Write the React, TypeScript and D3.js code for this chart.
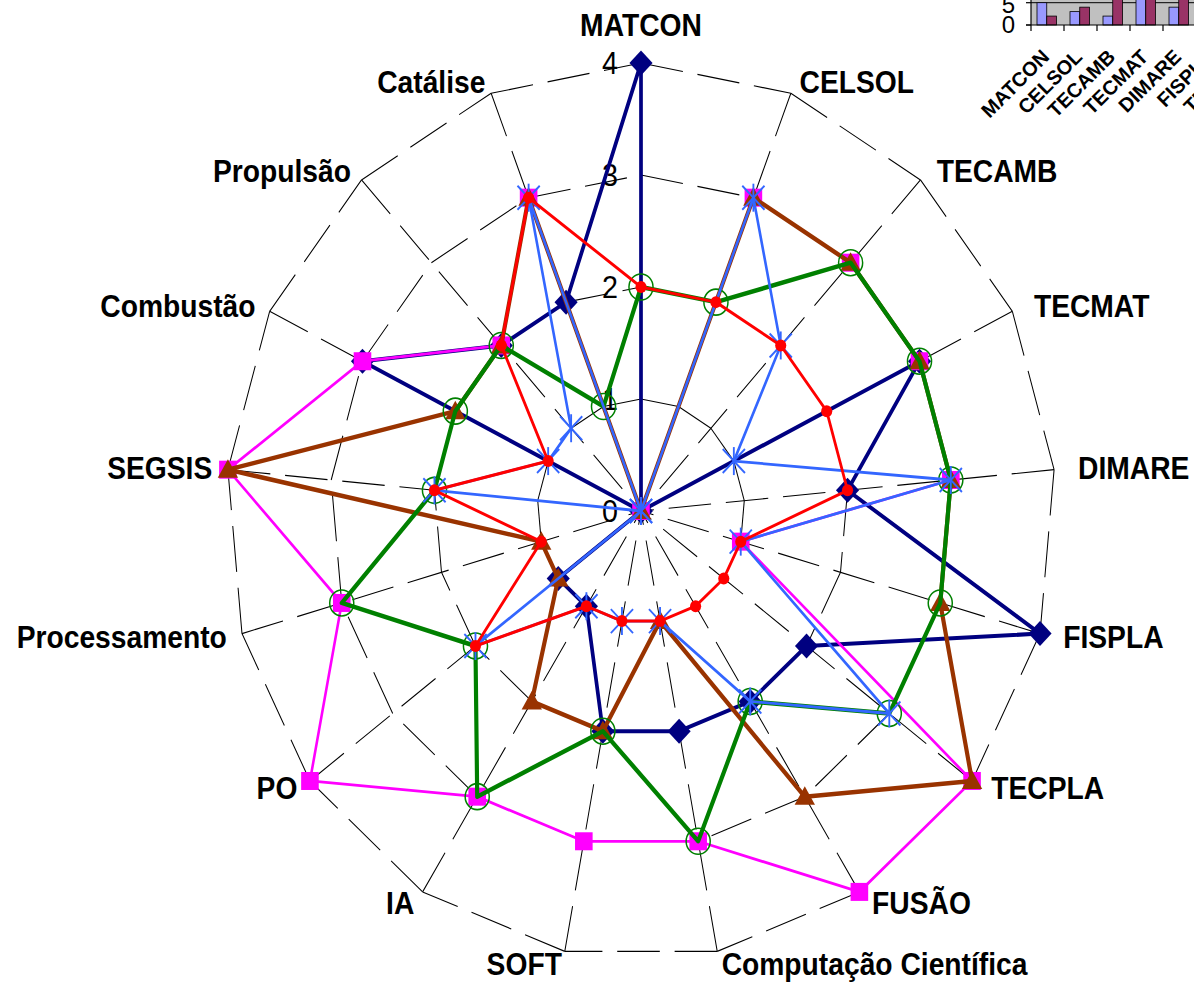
import React from 'react';
import * as d3 from 'd3';

// ---------- Radar data ----------
const categories = [
  'MATCON', 'CELSOL', 'TECAMB', 'TECMAT', 'DIMARE', 'FISPLA', 'TECPLA', 'FUSÃO',
  'Computação Científica', 'SOFT', 'IA', 'PO', 'Processamento', 'SEGSIS',
  'Combustão', 'Propulsão', 'Catálise',
];
const navyValues = [4, 0, 0, 3, 2, 4, 2, 2, 2, 2, 1, 1, 0, 0, 3, 2, 2];
const magentaValues = [0, 3, 3, 3, 3, 1, 4, 4, 3, 3, 3, 4, 3, 4, 3, 2, 3];
const brownValues = [0, 3, 3, 3, 3, 3, 4, 3, 1, 2, 2, 1, 1, 4, 2, 2, 3];
const greenValues = [2, 2, 3, 3, 3, 3, 3, 2, 3, 2, 3, 2, 3, 2, 2, 2, 1];
const blueValues = [0, 3, 2, 1, 3, 1, 3, 2, 1, 1, 1, 2, 0, 2, 1, 1, 3];
const redValues = [2, 2, 2, 2, 2, 1, 1, 1, 1, 1, 1, 2, 1, 2, 1, 2, 3];
const radialTicks = [0, 1, 2, 3, 4];

// ---------- Inset bar chart data (partly cut off at the page edge) ----------
const insetCategories = ['MATCON', 'CELSOL', 'TECAMB', 'TECMAT', 'DIMARE', 'FISPLA', 'TECPLA'];
const insetSeriesA = [5, 3, 2, 8, 4, 6, 5];
const insetSeriesB = [2, 4, 7, 8, 7, 6, 8];
const insetTicks = [0, 5];

// ---------- Layout ----------
const W = 1194;
const H = 989;
const CX = 641;
const CY = 511;
const R = 448;
const SX = 0.926;
const FONT = '"Liberation Sans", Arial, Helvetica, sans-serif';

const series = [
  { key: 'navy', values: navyValues, color: '#000080', width: 4, marker: 'diamond' },
  { key: 'magenta', values: magentaValues, color: '#FF00FF', width: 2.8, marker: 'square' },
  { key: 'brown', values: brownValues, color: '#993300', width: 4.5, marker: 'triangle' },
  { key: 'green', values: greenValues, color: '#008000', width: 4.5, marker: 'circle' },
  { key: 'blue', values: blueValues, color: '#3366FF', width: 2.8, marker: 'star' },
  { key: 'red', values: redValues, color: '#FF0000', width: 3, marker: 'dot' },
];

const N = categories.length;
const step = (2 * Math.PI) / N;
const rScale = d3.scaleLinear().domain([0, 4]).range([0, R]);
const pt = (i: number, v: number): [number, number] => [
  rScale(v) * Math.sin(i * step),
  -rScale(v) * Math.cos(i * step),
];
const lineGen = d3.line().curve(d3.curveLinearClosed);

function Marker({ type, color, x, y }: { type: string; color: string; x: number; y: number }) {
  switch (type) {
    case 'diamond':
      return <path d={`M${x},${y - 12.5}L${x + 12.5},${y}L${x},${y + 12.5}L${x - 12.5},${y}Z`} fill={color} />;
    case 'square':
      return <rect x={x - 9.5} y={y - 9} width={19} height={18} fill={color} />;
    case 'triangle':
      return <path d={`M${x},${y - 10.5}L${x + 11},${y + 8}L${x - 11},${y + 8}Z`} fill={color} />;
    case 'circle':
      return <circle cx={x} cy={y} r={13} fill="none" stroke={color} strokeWidth={1.6} />;
    case 'star':
      return (
        <g stroke={color} strokeWidth={2}>
          <line x1={x - 12} y1={y - 12} x2={x + 12} y2={y + 12} />
          <line x1={x - 12} y1={y + 12} x2={x + 12} y2={y - 12} />
          <line x1={x} y1={y - 14} x2={x} y2={y + 14} />
        </g>
      );
    default:
      return <circle cx={x} cy={y} r={6} fill={color} />;
  }
}

function labelProps(i: number) {
  const s = Math.sin(i * step);
  const c = Math.cos(i * step);
  if (Math.abs(s) < 0.05) {
    return { x: 0, y: c > 0 ? -486 : 470, anchor: 'middle' };
  }
  const rx = s > 0 ? 474 : 465;
  const ry = c > 0 ? 460 : 461;
  return { x: rx * s, y: -ry * c, anchor: s > 0 ? 'start' : 'end' };
}

function Inset() {
  const x0 = 1031;
  const band = 33;
  const xScale = d3
    .scaleBand()
    .domain(insetCategories)
    .range([x0, x0 + band * insetCategories.length]);
  const inner = d3.scaleBand().domain(['a', 'b']).range([6, 25.5]);
  const yScale = d3.scaleLinear().domain([0, 5]).range([25, 2.7]);
  const right = x0 + band * insetCategories.length;
  return (
    <g>
      <rect x={x0} y={-60} width={right - x0} height={85} fill="#C0C0C0" />
      {insetTicks.filter((t) => t > 0).map((t) => (
        <line key={t} x1={x0} x2={right} y1={yScale(t)} y2={yScale(t)} stroke="#000" strokeWidth={1} />
      ))}
      {insetCategories.map((c, i) => (
        <g key={c}>
          <rect
            x={(xScale(c) as number) + (inner('a') as number)}
            y={yScale(insetSeriesA[i])}
            width={inner.bandwidth()}
            height={yScale(0) - yScale(insetSeriesA[i])}
            fill="#9999FF"
            stroke="#000"
            strokeWidth={0.8}
          />
          <rect
            x={(xScale(c) as number) + (inner('b') as number)}
            y={yScale(insetSeriesB[i])}
            width={inner.bandwidth()}
            height={yScale(0) - yScale(insetSeriesB[i])}
            fill="#993366"
            stroke="#000"
            strokeWidth={0.8}
          />
        </g>
      ))}
      <line x1={x0} x2={x0} y1={-60} y2={25} stroke="#000" strokeWidth={1.2} />
      <line x1={x0 - 5} x2={right} y1={25} y2={25} stroke="#000" strokeWidth={1.2} />
      {insetTicks.map((t) => (
        <g key={t}>
          <line x1={x0 - 5} x2={x0} y1={yScale(t)} y2={yScale(t)} stroke="#000" strokeWidth={1.2} />
          <text
            x={1015}
            y={yScale(t) + (t > 0 ? 2 : 0)}
            dy="0.35em"
            textAnchor="end"
            fontFamily={FONT}
            fontSize={24}
            fill="#000"
          >
            {t}
          </text>
        </g>
      ))}
      {insetCategories.map((c, i) => (
        <line
          key={'t' + c}
          x1={x0 + band * i}
          x2={x0 + band * i}
          y1={25}
          y2={31}
          stroke="#000"
          strokeWidth={1.2}
        />
      ))}
      {insetCategories.map((c) => {
        const cx = (xScale(c) as number) + band / 2;
        return (
          <text
            key={'l' + c}
            transform={`translate(${cx + 3},58) rotate(-45)`}
            textAnchor="end"
            fontFamily={FONT}
            fontWeight="bold"
            fontSize={20}
            fill="#000"
          >
            {c}
          </text>
        );
      })}
    </g>
  );
}

export default function App() {
  const dash = '46 16';
  return (
    <svg
      width={W}
      height={H}
      viewBox={`0 0 ${W} ${H}`}
      style={{ position: 'absolute', left: 0, top: 0, background: '#fff', display: 'block' }}
    >
      <rect x={0} y={0} width={W} height={H} fill="#fff" />
      <Inset />
      <g transform={`translate(${CX},${CY}) scale(${SX},1)`}>
        {/* rings */}
        {radialTicks.filter((t) => t > 0).map((t) => (
          <g key={'ring' + t}>
            {categories.map((_, i) => {
              const a = pt(i, t);
              const b = pt((i + 1) % N, t);
              return (
                <line
                  key={i}
                  x1={a[0]}
                  y1={a[1]}
                  x2={b[0]}
                  y2={b[1]}
                  stroke="#000"
                  strokeWidth={1.1}
                  strokeDasharray={dash}
                />
              );
            })}
          </g>
        ))}
        {/* spokes (drawn from the outer end inward) */}
        {categories.map((_, i) => {
          const a = pt(i, 4);
          return (
            <line
              key={'sp' + i}
              x1={a[0]}
              y1={a[1]}
              x2={0}
              y2={0}
              stroke="#000"
              strokeWidth={1.1}
              strokeDasharray={dash}
            />
          );
        })}
        {/* tick labels */}
        {radialTicks.map((t) => (
          <text
            key={'tk' + t}
            x={-25}
            y={-rScale(t)}
            dy="0.35em"
            textAnchor="end"
            fontFamily={FONT}
            fontSize={31}
            fill="#000"
          >
            {t}
          </text>
        ))}
        {/* series */}
        {series.map((s) => {
          const pts = s.values.map((v, i) => pt(i, v));
          return (
            <g key={s.key}>
              <path
                d={lineGen(pts) as string}
                fill="none"
                stroke={s.color}
                strokeWidth={s.width}
                strokeLinejoin="round"
              />
              {pts.map((p, i) => (
                <Marker key={i} type={s.marker} color={s.color} x={p[0]} y={p[1]} />
              ))}
            </g>
          );
        })}
        {/* category labels */}
        {categories.map((c, i) => {
          const lp = labelProps(i);
          return (
            <text
              key={'cl' + c}
              x={lp.x}
              y={lp.y}
              dy="0.35em"
              textAnchor={lp.anchor as any}
              fontFamily={FONT}
              fontWeight="bold"
              fontSize={30.5}
              fill="#000"
            >
              {c}
            </text>
          );
        })}
      </g>
    </svg>
  );
}
